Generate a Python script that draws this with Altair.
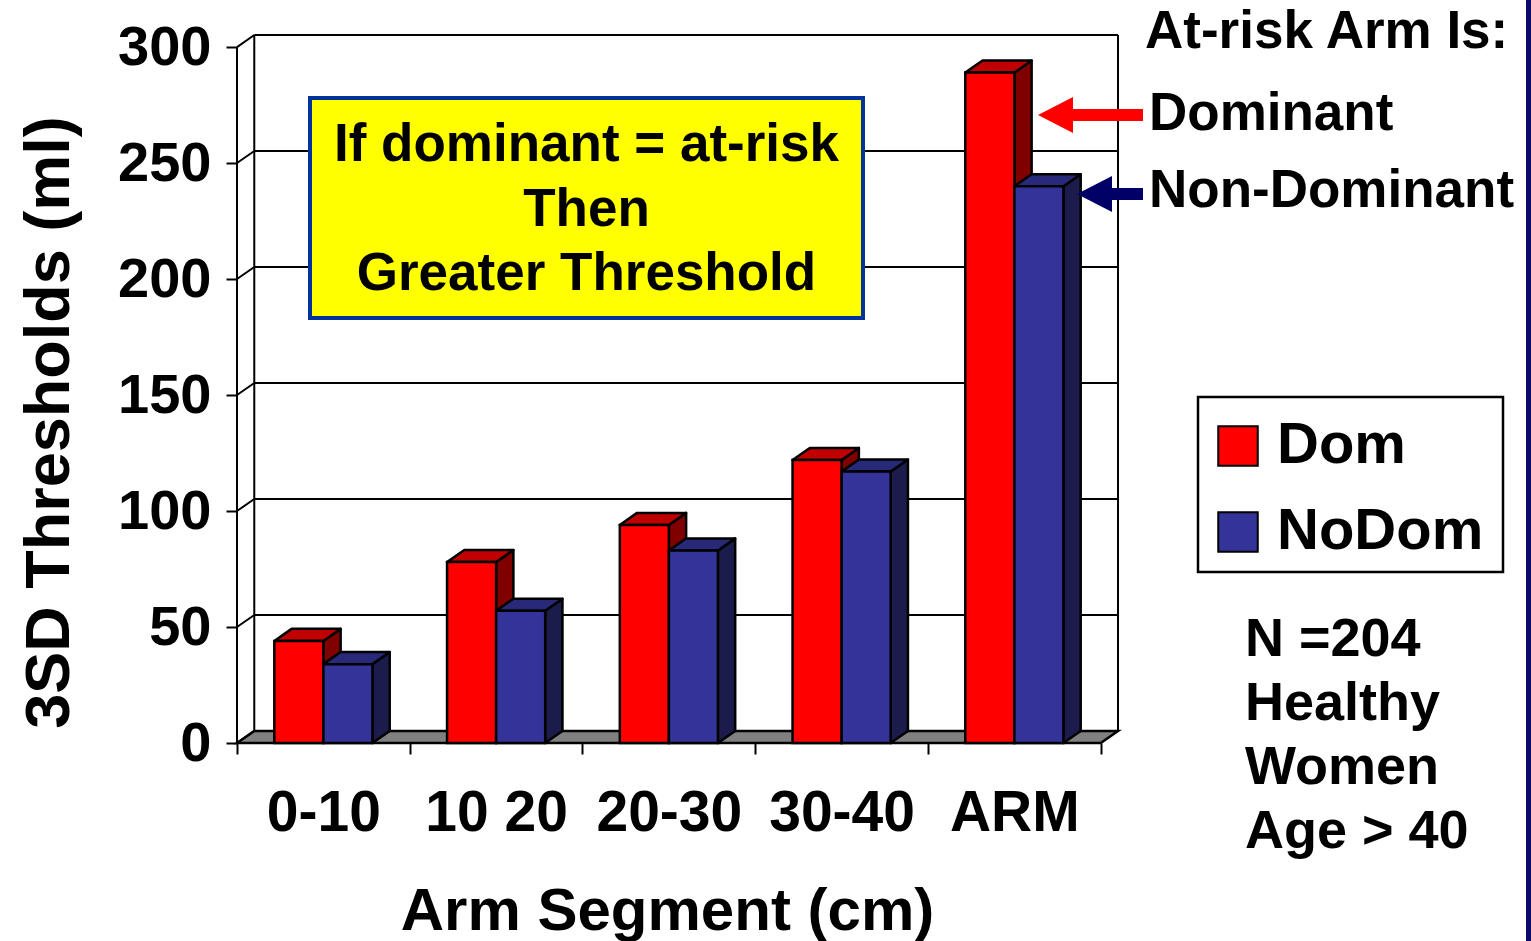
import altair as alt
import pandas as pd

# ---- values -------------------------------------------------------------
segments = ["0-10", "10 20", "20-30", "30-40", "ARM"]
series_names = ["Dom", "NoDom"]
dom_values = [44, 78, 94, 122, 289]
nodom_values = [34, 57, 83, 117, 240]
y_tick_values = [0, 50, 100, 150, 200, 250, 300]
box_lines = ["If dominant = at-risk", "Then", "Greater Threshold"]
arm_note = ["At-risk Arm Is:", "Dominant", "Non-Dominant"]
cohort_note = ["N =204", "Healthy", "Women", "Age > 40"]

# ---- styling / geometry -------------------------------------------------
FONT = "Liberation Sans"
FRONT = {"Dom": "#FF0000", "NoDom": "#333399"}
TOPC = {"Dom": "#C00000", "NoDom": "#29297A"}
SIDEC = {"Dom": "#800000", "NoDom": "#1C1C4C"}

W, H = 881, 708          # plot area
PAD_L, PAD_T = 237, 35
N = len(segments)
DX = 0.1                 # box depth along x (category units)
DY = 5.2                 # box depth along y (ml)
BAR_W = 0.284
Y_MAX = 300
LW = 2.5

xs = alt.Scale(domain=[0, N + DX], nice=False, zero=False)
ys = alt.Scale(domain=[0, Y_MAX + DY], nice=False, zero=False)
cat_px = W / (N + DX)

label_js = "[" + ",".join(repr(s) for s in segments + [""]) + "][datum.value]"

x_axis = alt.Axis(
    values=list(range(N + 1)), labelExpr=label_js, domain=False, grid=False,
    tickSize=11, tickWidth=2, tickColor="black", labelOffset=cat_px / 2,
    labelFont=FONT, labelFontSize=57, labelFontWeight="bold", labelColor="black",
    labelBaseline="alphabetic", labelPadding=76, labelOverlap=False,
    labelBound=False, labelFlush=False,
    title="Arm Segment (cm)", titleFont=FONT, titleFontSize=60,
    titleFontWeight="bold", titleColor="black", titleX=430, titleY=186,
    titleAlign="center", titleBaseline="alphabetic",
)
y_axis = alt.Axis(
    values=y_tick_values, domain=False, grid=False, tickSize=11, tickWidth=2,
    tickColor="black", labelFont=FONT, labelFontSize=56, labelFontWeight="bold",
    labelColor="black", labelPadding=15, labelOverlap=False, labelBound=False,
    labelFlush=False,
    title="3SD Thresholds (ml)", titleFont=FONT, titleFontSize=63,
    titleFontWeight="bold", titleColor="black", titleX=-169, titleY=387,
    titleAlign="center", titleBaseline="alphabetic",
)


def X(f="x"):
    return alt.X(f"{f}:Q", scale=xs, axis=x_axis, stack=None)


def Y(f="y"):
    return alt.Y(f"{f}:Q", scale=ys, axis=y_axis, stack=None)


# ---- tables built from the values ---------------------------------------
front_rows, side_rows, top_rows = [], [], []
for i, seg in enumerate(segments):
    for s, vals in (("Dom", dom_values), ("NoDom", nodom_values)):
        v = vals[i]
        x0 = i + 0.5 - BAR_W if s == "Dom" else i + 0.5
        x1 = x0 + BAR_W
        bid = f"{s}-{i}"
        front_rows.append(dict(seg=seg, series=s, x=x0, x2=x1, y=v, y2=0))
        side_rows += [dict(id=bid, series=s, x=x1, y=v, y2=0),
                      dict(id=bid, series=s, x=x1 + DX, y=v + DY, y2=DY)]
        top_rows += [dict(id=bid, series=s, y=v, x=x0, x2=x1),
                     dict(id=bid, series=s, y=v + DY, x=x0 + DX, x2=x1 + DX)]
front = pd.DataFrame(front_rows)
side = pd.DataFrame(side_rows)
top = pd.DataFrame(top_rows)

floor = pd.DataFrame([dict(id="f", y=0, x=0, x2=N), dict(id="f", y=DY, x=DX, x2=N + DX)])

wall_rows = []
for v in y_tick_values:
    if v > 0:
        wall_rows.append(dict(x=DX, x2=N + DX, y=v + DY, y2=v + DY))   # back grid
    wall_rows.append(dict(x=0, x2=DX, y=v, y2=v + DY))                 # side wall
wall_rows += [dict(x=DX, x2=DX, y=DY, y2=Y_MAX + DY),
              dict(x=N + DX, x2=N + DX, y=DY, y2=Y_MAX + DY),
              dict(x=0, x2=0, y=0, y2=Y_MAX)]
walls = pd.DataFrame(wall_rows)

one = pd.DataFrame({"k": [0]})

# ---- layers -------------------------------------------------------------
floor_layer = alt.Chart(floor).mark_area(
    orient="horizontal", fill="#808080", stroke="black", strokeWidth=LW
).encode(y=Y(), x=X(), x2="x2:Q", detail="id:N")

wall_layer = alt.Chart(walls).mark_rule(color="black", strokeWidth=2).encode(
    x=X(), x2="x2:Q", y=Y(), y2="y2:Q")

note_box = alt.Chart(one).mark_rect(
    fill="#FFFF00", stroke="#003399", strokeWidth=4
).encode(x=alt.value(310 - PAD_L), x2=alt.value(863 - PAD_L),
         y=alt.value(98 - PAD_T), y2=alt.value(318 - PAD_T))

box_text = [
    alt.Chart(pd.DataFrame({"t": [line]})).mark_text(
        font=FONT, fontSize=53, fontWeight="bold", color="black",
        align="center", baseline="alphabetic"
    ).encode(text="t:N", x=alt.value(586.5 - PAD_L), y=alt.value(b - PAD_T))
    for line, b in zip(box_lines, [161, 226, 290])
]


def side_layer(s):
    return alt.Chart(side[side.series == s]).mark_area(
        fill=SIDEC[s], stroke="black", strokeWidth=LW, strokeJoin="round"
    ).encode(x=X(), y=Y(), y2="y2:Q", detail="id:N")


def top_layer(s):
    return alt.Chart(top[top.series == s]).mark_area(
        orient="horizontal", fill=TOPC[s], stroke="black", strokeWidth=LW,
        strokeJoin="round"
    ).encode(y=Y(), x=X(), x2="x2:Q", detail="id:N")


front_layer = alt.Chart(front).mark_rect(stroke="black", strokeWidth=LW).encode(
    x=X(), x2="x2:Q", y=Y(), y2="y2:Q",
    color=alt.Color(
        "series:N",
        scale=alt.Scale(domain=series_names, range=[FRONT[s] for s in series_names]),
        legend=alt.Legend(
            title=None, orient="none", legendX=952, legendY=362, padding=20,
            symbolType="square", symbolSize=1560, symbolStrokeColor="black",
            symbolStrokeWidth=2, symbolOpacity=1, labelFont=FONT,
            labelFontSize=58, labelFontWeight="bold", labelColor="black",
            labelOffset=10, rowPadding=28, labelLimit=400,
        ),
    ),
)

legend_frame = alt.Chart(one).mark_rect(
    fill="white", stroke="black", strokeWidth=2.5
).encode(x=alt.value(1198 - PAD_L), x2=alt.value(1503 - PAD_L),
         y=alt.value(397 - PAD_T), y2=alt.value(572 - PAD_T))


def text_at(t, x, baseline_y, size):
    return alt.Chart(pd.DataFrame({"t": [t]})).mark_text(
        font=FONT, fontSize=size, fontWeight="bold", color="black",
        align="left", baseline="alphabetic"
    ).encode(text="t:N", x=alt.value(x - PAD_L), y=alt.value(baseline_y - PAD_T))


arm_text = [text_at(t, x, b, 53) for t, x, b in
            zip(arm_note, [1145, 1149, 1149], [48, 130, 207])]
cohort_text = [text_at(t, 1245, b, 54) for t, b in
               zip(cohort_note, [656, 720, 784, 848])]


def arrow(color, tip_x, base_x, end_x, y):
    shaft = alt.Chart(one).mark_rule(color=color, strokeWidth=12).encode(
        x=alt.value(base_x - 2 - PAD_L), x2=alt.value(end_x - PAD_L),
        y=alt.value(y - PAD_T))
    head = alt.Chart(one).mark_point(
        shape="M-1,0L1,-1.03L1,1.03Z", size=(base_x - tip_x) ** 2,
        filled=True, color=color, opacity=1, strokeWidth=0
    ).encode(x=alt.value((tip_x + base_x) / 2 - PAD_L), y=alt.value(y - PAD_T))
    return [shaft, head]


arrows = arrow("#FF0000", 1038, 1073, 1143, 115) + arrow("#000066", 1077, 1112, 1143, 194)

edge = alt.Chart(one).mark_rect(color="#0A0A68").encode(
    x=alt.value(1526 - PAD_L), x2=alt.value(1531 - PAD_L),
    y=alt.value(-PAD_T), y2=alt.value(941 - PAD_T))

chart = alt.layer(
    floor_layer, wall_layer, note_box, *box_text,
    side_layer("Dom"), top_layer("Dom"), side_layer("NoDom"), top_layer("NoDom"),
    legend_frame, front_layer,
    *arm_text, *cohort_text, *arrows, edge,
).properties(
    width=W, height=H,
    autosize=alt.AutoSizeParams(type="none"),
    padding={"left": PAD_L, "top": PAD_T, "right": 1531 - PAD_L - W,
             "bottom": 941 - PAD_T - H},
    background="white",
).configure_view(stroke=None)

chart.save("out.html", embed_options={"renderer": "svg", "actions": False})
